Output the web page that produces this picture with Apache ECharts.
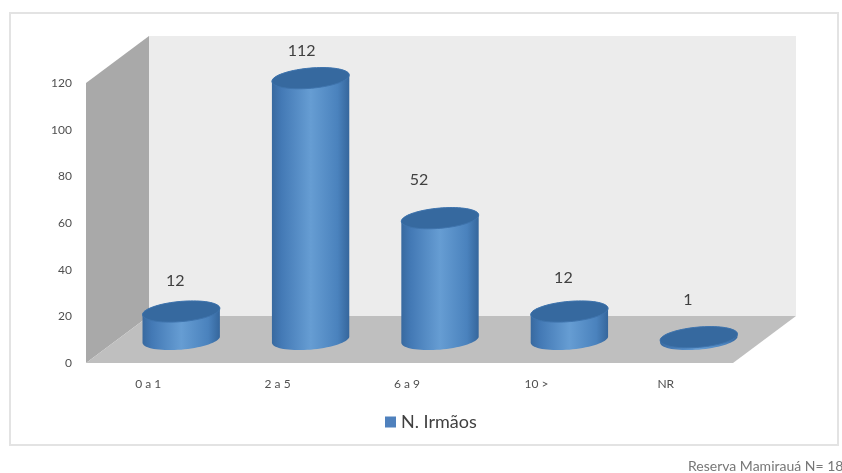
<!DOCTYPE html>
<html>
<head>
<meta charset="utf-8">
<style>
  html, body { margin: 0; padding: 0; background: #fff; }
  #chart { width: 842px; height: 473px; }
</style>
<script src="https://cdn.jsdelivr.net/npm/echarts@6/dist/echarts.min.js"></script>
</head>
<body>
<div id="chart"></div>
<script>
// Number of siblings reported by respondents
const categories = ['0 a 1', '2 a 5', '6 a 9', '10 >', 'NR'];
const siblings = [12, 112, 52, 12, 1];
const seriesName = 'N. Irmãos';
const sourceNote = 'Reserva Mamirauá N= 18';

// Hand-placed value labels: shift from each cylinder's top centre, in pixels
const labelShiftX = [-6, -9, -21, -6, -11];
const labelShiftY = [-31, -27, -38, -34, -37];

// Oblique projection of the 3D box
const DEPTH_X = 63;
const DEPTH_Y = 47;
const TILT = -5 * Math.PI / 180;   // ellipse tilt caused by the camera angle
const ELLIPSE_RATIO = 0.26;

const fontFamily = 'Lato, Open Sans, sans-serif';

function ellipsePoint(cx, cy, a, b, t) {
  const c = Math.cos(t), s = Math.sin(t);
  return [
    cx + a * c * Math.cos(TILT) - b * s * Math.sin(TILT),
    cy + a * c * Math.sin(TILT) + b * s * Math.cos(TILT)
  ];
}

function ellipsePolygon(cx, cy, a, b) {
  const pts = [];
  for (let i = 0; i < 72; i++) pts.push(ellipsePoint(cx, cy, a, b, i / 72 * Math.PI * 2));
  return pts;
}

// Back wall, side wall and floor, derived from the grid rectangle
function renderBox(params) {
  const r = params.coordSys;
  const l = r.x, t = r.y, w = r.width, h = r.height, b = t + h;
  const poly = (points, fill) => ({
    type: 'polygon', shape: { points }, style: { fill }, silent: true
  });
  return {
    type: 'group',
    children: [
      poly([[l + DEPTH_X, t - DEPTH_Y], [l + w + DEPTH_X, t - DEPTH_Y],
            [l + w + DEPTH_X, b - DEPTH_Y], [l + DEPTH_X, b - DEPTH_Y]], '#ececec'),
      poly([[l, t], [l + DEPTH_X, t - DEPTH_Y], [l + DEPTH_X, b - DEPTH_Y], [l, b]], '#a9a9a9'),
      poly([[l, b], [l + DEPTH_X, b - DEPTH_Y], [l + w + DEPTH_X, b - DEPTH_Y], [l + w, b]], '#bfbfbf')
    ]
  };
}

// One cylinder per category, standing halfway back in the box
function renderCylinder(params, api) {
  const idx = params.dataIndex;
  const value = api.value(1);
  const top = api.coord([api.value(0), value]);
  const base = api.coord([api.value(0), 0]);
  const band = api.size([1, 0])[0];
  const a = band * 0.3;
  const b = a * ELLIPSE_RATIO;
  const cx = top[0] + DEPTH_X / 2 - 1;
  const topY = top[1] - DEPTH_Y / 2;
  const baseY = base[1] - DEPTH_Y / 2;

  // Parameter angle of the ellipse's rightmost point; the silhouette runs between the two sides
  const t0 = Math.atan2(-b * Math.sin(TILT), a * Math.cos(TILT));
  const body = [];
  for (let i = 0; i <= 36; i++) body.push(ellipsePoint(cx, baseY, a, b, t0 + i / 36 * Math.PI));
  for (let i = 0; i <= 36; i++) body.push(ellipsePoint(cx, topY, a, b, t0 + Math.PI + i / 36 * Math.PI));

  const sideFill = new echarts.graphic.LinearGradient(0, 0, 1, 0, [
    { offset: 0, color: '#38699f' },
    { offset: 0.12, color: '#4379b5' },
    { offset: 0.5, color: '#669dd3' },
    { offset: 0.85, color: '#4a82bd' },
    { offset: 1, color: '#35669c' }
  ]);

  return {
    type: 'group',
    children: [
      { type: 'polygon', shape: { points: body }, style: { fill: sideFill } },
      {
        type: 'polygon',
        shape: { points: ellipsePolygon(cx, topY, a, b) },
        style: { fill: '#36699f', stroke: '#3f74ad', lineWidth: 1 }
      },
      {
        type: 'text',
        x: cx + labelShiftX[idx],
        y: topY + labelShiftY[idx],
        style: {
          text: String(value),
          fill: '#404040',
          font: '16px ' + fontFamily,
          align: 'center',
          verticalAlign: 'middle'
        }
      }
    ]
  };
}

const chart = echarts.init(document.getElementById('chart'), null, { renderer: 'canvas' });
chart.setOption({
  animation: false,
  backgroundColor: '#ffffff',
  grid: { left: 86, right: 109, top: 83, bottom: 110 },
  xAxis: {
    type: 'category',
    data: categories,
    axisLine: { show: false },
    axisTick: { show: false },
    axisLabel: { color: '#505050', fontSize: 12, fontFamily, margin: 15, padding: [0, 5, 0, 0] }
  },
  yAxis: {
    type: 'value',
    min: 0,
    max: 120,
    interval: 20,
    axisLine: { show: false },
    axisTick: { show: false },
    splitLine: { show: false },
    axisLabel: { color: '#505050', fontSize: 12, fontFamily, margin: 14, padding: [3, 0, 0, 0] }
  },
  legend: {
    data: [{ name: seriesName, icon: 'rect' }],
    left: 380,
    top: 408,
    itemWidth: 11,
    itemHeight: 11,
    itemGap: 4,
    selectedMode: false,
    textStyle: { color: '#404040', fontSize: 18, fontFamily }
  },
  graphic: [
    {
      type: 'rect',
      z: -1,
      shape: { x: 10, y: 13, width: 828, height: 432 },
      style: { fill: '#ffffff', stroke: '#e3e3e3', lineWidth: 2 },
      silent: true
    },
    {
      type: 'text',
      x: 688,
      y: 466,
      style: {
        text: sourceNote,
        fill: '#777777',
        font: '14px ' + fontFamily,
        verticalAlign: 'middle'
      },
      silent: true
    }
  ],
  series: [
    {
      type: 'custom',
      name: 'box',
      silent: true,
      z: 1,
      data: [0],
      encode: { x: -1, y: -1 },
      renderItem: renderBox
    },
    {
      type: 'custom',
      name: seriesName,
      z: 2,
      itemStyle: { color: '#4f81bd' },
      data: categories.map((c, i) => [i, siblings[i]]),
      encode: { x: 0, y: 1 },
      renderItem: renderCylinder
    }
  ]
});
</script>
</body>
</html>
